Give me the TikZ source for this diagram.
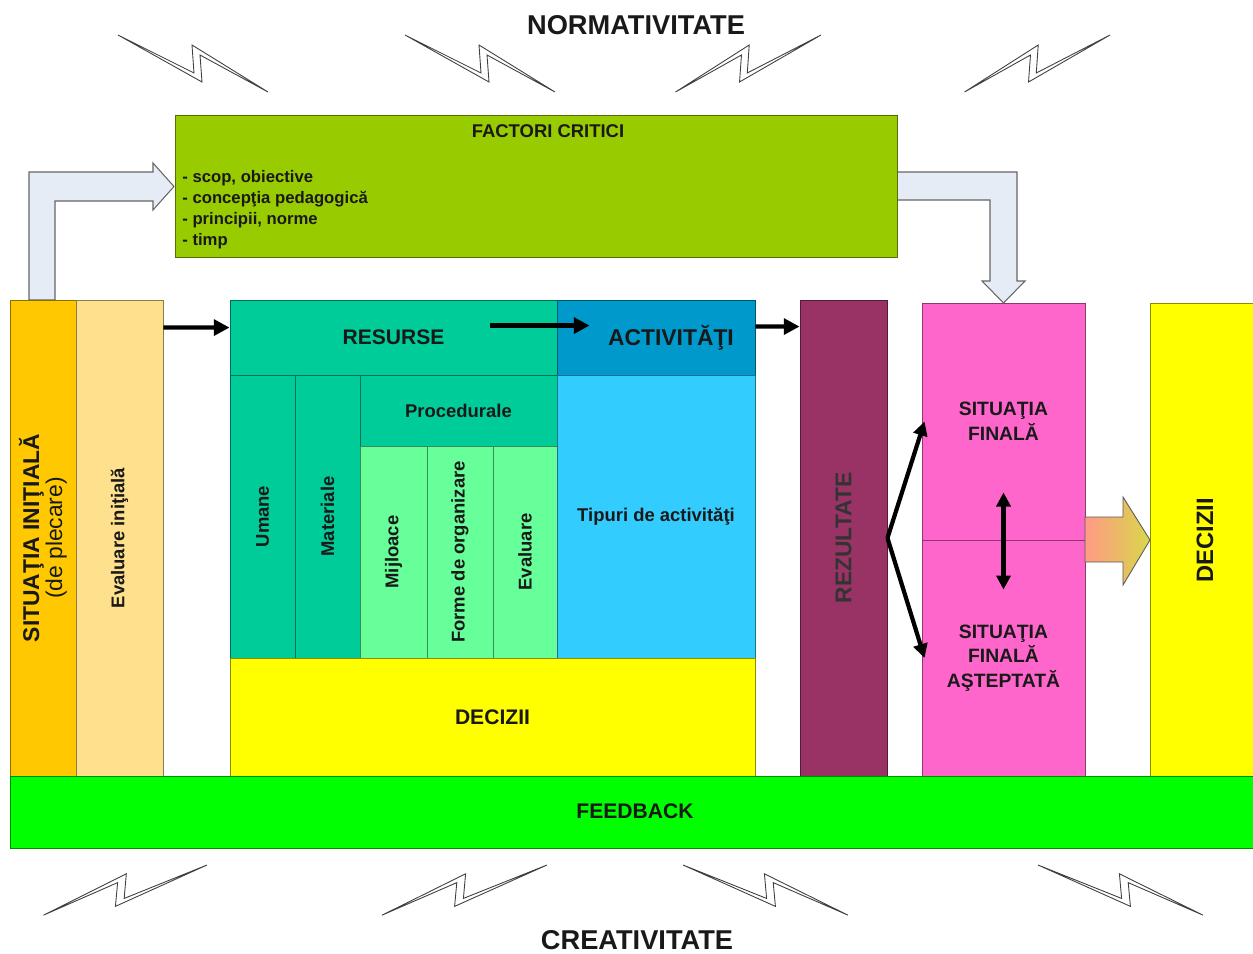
\documentclass[tikz,border=0pt]{standalone}
\usepackage{fontspec}
\setmainfont{Liberation Sans}
\usetikzlibrary{fit,arrows.meta}

\definecolor{olivegreen}{HTML}{99CC00}
\definecolor{orangeyel}{HTML}{FFC800}
\definecolor{paleorange}{HTML}{FFE08C}
\definecolor{teal}{HTML}{00CC99}
\definecolor{mintgreen}{HTML}{66FF99}
\definecolor{deepblue}{HTML}{0099CC}
\definecolor{skyblue}{HTML}{33CCFF}
\definecolor{brightyel}{HTML}{FFFF00}
\definecolor{plum}{HTML}{993366}
\definecolor{hotpink}{HTML}{FF66CC}
\definecolor{neongreen}{HTML}{00FF00}
\definecolor{paleblue}{HTML}{E6ECF6}
\definecolor{salmon}{HTML}{FF9A86}
\definecolor{oliveyel}{HTML}{D8D848}

% lightning bolt: x, y, xscale, yscale
\newcommand{\lightning}[4]{%
  \draw[boltline, shift={(#1,#2)}, xscale=#3, yscale=#4]
    (0,0) -- (76,38) -- (74,10) -- (150,57) -- (82,20) -- (84,47) -- cycle;}

\begin{document}
\begin{tikzpicture}[x=0.02cm, y=-0.02cm,
    cell/.style={draw=#1!55!black, fill=#1, line width=0.5pt, inner sep=0pt},
    txt/.style={font=\bfseries\fontsize{10.5}{12.5}\selectfont, text=black!90, align=center},
    bigtxt/.style={font=\bfseries\fontsize{12}{14}\selectfont, text=black!90, align=center},
    titletxt/.style={font=\bfseries\fontsize{15.5}{18}\selectfont, text=black!90},
    blackarrow/.style={line width=2.4pt, -{Triangle[length=9pt,width=9pt]}},
    fatarrow/.style={draw=gray!80!black, fill=paleblue, line width=0.6pt},
    boltline/.style={draw=black!75, fill=white, line width=0.5pt},
  ]
  \useasboundingbox (0,0) rectangle (1253,953);

  % Titles
  \node[titletxt] (norm) at (636,25) {NORMATIVITATE};
  \node[titletxt] (creat) at (637,940) {CREATIVITATE};

  % Lightning bolts
  \lightning{118}{35}{1.0}{1.0}
  \lightning{405}{35}{1.0}{1.0}
  \lightning{821}{35}{-0.97}{1.0}
  \lightning{1110}{35}{-0.97}{1.0}
  \lightning{207}{865}{-1.09}{0.88}
  \lightning{547}{865}{-1.1}{0.88}
  \lightning{683}{865}{1.1}{0.88}
  \lightning{1038}{865}{1.1}{0.88}

  % Fat arrows
  \draw[fatarrow] (29,300) -- (29,172) -- (153,172) -- (153,163) -- (174,186.5)
    -- (153,210) -- (153,201) -- (55,201) -- (55,300) -- cycle;
  \draw[fatarrow] (897,172) -- (1017,172) -- (1017,281) -- (1025,281) -- (1003.5,303)
    -- (982,281) -- (990,281) -- (990,200) -- (897,200) -- cycle;

  % Factori critici
  \node[cell=olivegreen, fit={(175,115)(897,257)}] (fact) {};
  \node[txt] (facttitle) at (548,131) {FACTORI CRITICI};
  \node[txt, align=left, anchor=north west, inner sep=0pt,
        font=\bfseries\fontsize{9.5}{11.9}\selectfont] (factlist) at (182,170)
    {- scop, obiective\\- concepţia pedagogică\\- principii, norme\\- timp};

  % Situatia initiala
  \node[cell=orangeyel, fit={(10,300)(76,776)}] (sit) {};
  \node[rotate=90, align=center, text=black!90] (sitlbl) at (sit.center)
    {{\bfseries\fontsize{13}{15}\selectfont SITUAŢIA INIŢIALĂ}\\{\fontsize{13}{15}\selectfont (de plecare)}};
  \node[cell=paleorange, fit={(76,300)(163,776)}] (eval) {};
  \node[txt, rotate=90] (evallbl) at (eval.center) {Evaluare iniţială};

  % Resurse / activitati
  \node[cell=teal, fit={(230,300)(557,375)}] (res) {};
  \node[bigtxt] (reslbl) at (res.center) {RESURSE};
  \node[cell=deepblue, fit={(557,300)(755,375)}] (act) {};
  \node[bigtxt, font=\bfseries\fontsize{13}{15}\selectfont] (actlbl) at ([xshift=0.3cm]act.center) {ACTIVITĂŢI};
  \node[cell=teal, fit={(230,375)(295,658)}] (uman) {};
  \node[txt, rotate=90] (umanlbl) at (uman.center) {Umane};
  \node[cell=teal, fit={(295,375)(360,658)}] (mat) {};
  \node[txt, rotate=90] (matlbl) at (mat.center) {Materiale};
  \node[cell=teal, fit={(360,375)(557,446)}] (proc) {};
  \node[txt] (proclbl) at (proc.center) {Procedurale};
  \node[cell=mintgreen, fit={(360,446)(427,658)}] (mij) {};
  \node[txt, rotate=90] (mijlbl) at (mij.center) {Mijloace};
  \node[cell=mintgreen, fit={(427,446)(493,658)}] (forme) {};
  \node[txt, rotate=90] (formelbl) at (forme.center) {Forme de organizare};
  \node[cell=mintgreen, fit={(493,446)(557,658)}] (evp) {};
  \node[txt, rotate=90] (evplbl) at (evp.center) {Evaluare};
  \node[cell=skyblue, fit={(557,375)(755,658)}] (tip) {};
  \node[txt] (tiplbl) at (tip.center) {Tipuri de activităţi};
  \node[cell=brightyel, fit={(230,658)(755,776)}] (dec) {};
  \node[bigtxt] (declbl) at (dec.center) {DECIZII};

  % Rezultate
  \node[cell=plum, fit={(800,300)(887,776)}] (rez) {};
  \node[rotate=90, font=\bfseries\fontsize{13}{15}\selectfont, text=black!80] (rezlbl) at (rez.center) {REZULTATE};

  % Situatia finala
  \node[cell=hotpink, fit={(922,303)(1085,540)}] (fin) {};
  \node[txt, font=\bfseries\fontsize{11}{14}\selectfont] (finlbl) at (fin.center) {SITUAŢIA\\FINALĂ};
  \node[cell=hotpink, fit={(922,540)(1085,776)}] (exp) {};
  \node[txt, font=\bfseries\fontsize{11}{14}\selectfont] (explbl) at (exp.center) {SITUAŢIA\\FINALĂ\\AŞTEPTATĂ};

  % Decizii (dreapta)
  \node[cell=brightyel, fit={(1150,303)(1258,776)}] (decr) {};
  \node[rotate=90, font=\bfseries\fontsize{13.5}{15}\selectfont, text=black!90] (decrlbl) at (1205,540) {DECIZII};

  % Feedback
  \node[cell=neongreen, fit={(10,776)(1258,848)}] (feed) {};
  \node[bigtxt] (feedlbl) at (635,811) {FEEDBACK};

  % Gradient arrow
  \shadedraw[left color=salmon, right color=oliveyel, draw=gray!70!black, line width=0.5pt]
    (1085,517) -- (1123,517) -- (1123,497) -- (1150,540) -- (1123,585) -- (1123,562) -- (1085,562) -- cycle;

  % Black arrows
  \draw[blackarrow] ([yshift=-0.56cm]eval.north east) -- ([yshift=-0.56cm]res.north west);
  \draw[blackarrow] ([xshift=-1.34cm,yshift=-0.52cm]res.north east) -- ([xshift=0.66cm,yshift=-0.52cm]act.north west);
  \draw[blackarrow] ([yshift=-0.54cm]act.north east) -- ([yshift=-0.54cm]rez.north west);
  \draw[blackarrow, -{Triangle[length=8pt,width=8pt]}] (rez.east) -- ([xshift=0.06cm]fin.west);
  \draw[blackarrow, -{Triangle[length=8pt,width=8pt]}] (rez.east) -- ([xshift=0.06cm]exp.west);
  \draw[blackarrow, {Triangle[length=8pt,width=8pt]}-{Triangle[length=8pt,width=8pt]}]
    ([yshift=0.96cm]fin.south) -- ([yshift=-1cm]exp.north);
\end{tikzpicture}
\end{document}
